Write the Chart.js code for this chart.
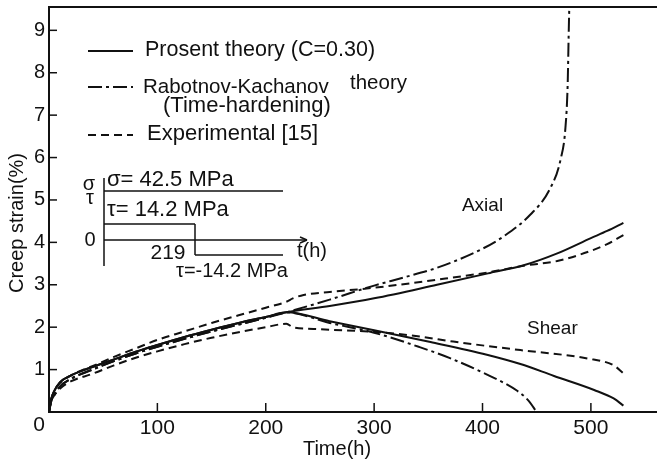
<!DOCTYPE html>
<html><head><meta charset="utf-8">
<script src="https://cdn.jsdelivr.net/npm/chart.js@4.4.0/dist/chart.umd.min.js"></script>
<style>html,body{margin:0;padding:0;background:#fff;}#wrap{width:657px;height:459px;}</style>
</head><body><div id="wrap"><canvas id="c" width="657" height="459"></canvas></div>
<script>
const FONT = "'Liberation Sans', Arial, sans-serif";

// ---- tick values ----
const xTickValues = [0, 100, 200, 300, 400, 500];
const yTickValues = [1, 2, 3, 4, 5, 6, 7, 8, 9];
const xTitle = 'Time(h)';
const yTitle = 'Creep strain(%)';

// ---- Present theory (C=0.30) ----
const presentCommonTime   = [0, 2, 5, 10, 20, 30, 40, 60, 80, 100, 125, 150, 175, 200, 219];
const presentCommonStrain = [0, 0.3, 0.5, 0.7, 0.86, 0.97, 1.06, 1.24, 1.42, 1.58, 1.77, 1.94, 2.1, 2.24, 2.35];
const presentAxialTime    = [259, 300, 358, 407, 438, 469, 500, 515, 530];
const presentAxialStrain  = [2.5, 2.68, 3.0, 3.28, 3.46, 3.74, 4.1, 4.27, 4.46];
const presentShearTime    = [259, 300, 352, 404, 435, 466, 503, 521, 530];
const presentShearStrain  = [2.14, 1.93, 1.65, 1.35, 1.13, 0.85, 0.52, 0.32, 0.15];

// ---- Rabotnov-Kachanov theory (time-hardening) ----
const rkCommonTime   = [0, 2, 5, 10, 20, 40, 60, 80, 100, 150, 200, 219];
const rkCommonStrain = [0, 0.25, 0.4, 0.6, 0.78, 1.0, 1.2, 1.38, 1.54, 1.9, 2.22, 2.35];
const rkAxialTime    = [259, 300, 327, 358, 400, 420, 444, 462, 472, 476.5, 478.6, 479.5, 480.3];
const rkAxialStrain  = [2.65, 2.98, 3.17, 3.4, 3.85, 4.15, 4.65, 5.25, 5.95, 6.7, 7.75, 8.9, 9.8];
const rkShearTime    = [259, 300, 342, 370, 401, 432, 442, 450];
const rkShearStrain  = [2.1, 1.87, 1.53, 1.27, 0.92, 0.5, 0.28, 0.0];

// ---- Experimental [15] ----
const expAxialTime   = [0, 2, 5, 10, 20, 40, 60, 80, 100, 125, 150, 175, 200, 219, 225, 235, 259, 300, 358, 407, 438, 469, 500, 515, 530];
const expAxialStrain = [0, 0.3, 0.5, 0.68, 0.86, 1.08, 1.3, 1.5, 1.7, 1.9, 2.1, 2.28, 2.46, 2.6, 2.68, 2.76, 2.83, 2.93, 3.12, 3.3, 3.45, 3.56, 3.8, 3.96, 4.17];
const expShearTime   = [0, 2, 5, 10, 20, 40, 60, 80, 100, 125, 150, 175, 200, 219, 225, 244, 259, 306, 342, 373, 435, 497, 521, 530];
const expShearStrain = [0, 0.25, 0.4, 0.55, 0.72, 0.9, 1.1, 1.28, 1.43, 1.6, 1.75, 1.88, 2.0, 2.08, 2.0, 1.96, 1.94, 1.88, 1.78, 1.66, 1.46, 1.26, 1.1, 0.91];

function pts(t, s) { return t.map((v, i) => ({ x: v, y: s[i] })); }

const SOLID = [];
const DASH = [8, 5];
const DASHDOT = [14, 4, 3, 4];
const INK = '#111';

function ds(label, data, dash) {
  return { label, data, borderColor: INK, borderWidth: 2, borderDash: dash, pointRadius: 0,
           fill: false, cubicInterpolationMode: 'monotone' };
}

const datasets = [
  ds('Present axial', pts(presentCommonTime.concat(presentAxialTime), presentCommonStrain.concat(presentAxialStrain)), SOLID),
  ds('Present shear', pts(presentCommonTime.concat(presentShearTime), presentCommonStrain.concat(presentShearStrain)), SOLID),
  ds('RK axial', pts(rkCommonTime.concat(rkAxialTime), rkCommonStrain.concat(rkAxialStrain)), DASHDOT),
  ds('RK shear', pts(rkCommonTime.concat(rkShearTime), rkCommonStrain.concat(rkShearStrain)), DASHDOT),
  ds('Exp axial', pts(expAxialTime, expAxialStrain), DASH),
  ds('Exp shear', pts(expShearTime, expShearStrain), DASH)
];

const decor = {
  id: 'decor',
  afterDatasetsDraw(chart) {
    const ctx = chart.ctx, ca = chart.chartArea;
    const xs = chart.scales.x, ys = chart.scales.y;
    const L = ca.left, T = ca.top;
    const X = px => L + (px - 49), Y = py => T + (py - 7);
    ctx.save();
    ctx.strokeStyle = INK; ctx.fillStyle = INK;
    // top border
    ctx.lineWidth = 2; ctx.setLineDash([]);
    ctx.beginPath(); ctx.moveTo(ca.left, ca.top); ctx.lineTo(ca.right, ca.top); ctx.stroke();
    // inward ticks
    ctx.lineWidth = 1.5;
    xTickValues.forEach(v => { if (v === 0) return; const p = xs.getPixelForValue(v);
      ctx.beginPath(); ctx.moveTo(p, ca.bottom); ctx.lineTo(p, ca.bottom - 9); ctx.stroke(); });
    yTickValues.forEach(v => { const p = ys.getPixelForValue(v);
      ctx.beginPath(); ctx.moveTo(ca.left, p); ctx.lineTo(ca.left + 8, p); ctx.stroke(); });

    // origin label and axis titles
    ctx.textBaseline = 'middle'; ctx.textAlign = 'center';
    ctx.font = '21px ' + FONT;
    ctx.fillText(String(xTickValues[0]), X(39), Y(425));
    ctx.font = '20px ' + FONT;
    ctx.fillText(xTitle, X(337), Y(449));
    ctx.save();
    ctx.translate(X(17), Y(223)); ctx.rotate(-Math.PI / 2);
    ctx.fillText(yTitle, 0, 0);
    ctx.restore();

    // legend
    ctx.lineWidth = 2;
    const sample = (y, dash) => { ctx.setLineDash(dash); ctx.beginPath(); ctx.moveTo(X(88), Y(y)); ctx.lineTo(X(133), Y(y)); ctx.stroke(); };
    sample(51, SOLID); sample(87, DASHDOT); sample(135, DASH);
    ctx.setLineDash([]);
    ctx.textAlign = 'left';
    ctx.font = '21.5px ' + FONT;
    ctx.fillText('Prosent theory (C=0.30)', X(145), Y(50));
    ctx.font = '20.5px ' + FONT;
    ctx.fillText('Rabotnov-Kachanov', X(143), Y(87));
    ctx.fillText('theory', X(350), Y(83));
    ctx.font = '22px ' + FONT;
    ctx.fillText('(Time-hardening)', X(163), Y(106));
    ctx.fillText('Experimental [15]', X(147), Y(134));

    // annotations
    ctx.font = '19px ' + FONT; ctx.textAlign = 'center';
    ctx.fillText('Axial', xs.getPixelForValue(400), ys.getPixelForValue(4.87));
    ctx.fillText('Shear', xs.getPixelForValue(464.5), ys.getPixelForValue(1.97));

    // stress history inset
    ctx.lineWidth = 1.5;
    const line = (x1, y1, x2, y2) => { ctx.beginPath(); ctx.moveTo(X(x1), Y(y1)); ctx.lineTo(X(x2), Y(y2)); ctx.stroke(); };
    line(104, 178, 104, 266);
    line(104, 191, 283, 191);
    line(104, 224, 195, 224);
    line(195, 224, 195, 255);
    line(195, 255, 283, 255);
    line(104, 240, 307, 240);
    line(300, 237, 307, 240); line(300, 243, 307, 240);
    ctx.font = '20px ' + FONT; ctx.textAlign = 'center';
    ctx.fillText('σ', X(89), Y(184));
    ctx.fillText('τ', X(90), Y(198));
    ctx.fillText('0', X(90), Y(240));
    ctx.textAlign = 'left';
    ctx.font = '22px ' + FONT;
    ctx.fillText('σ= 42.5 MPa', X(107), Y(180));
    ctx.fillText('τ= 14.2 MPa', X(107), Y(210));
    ctx.font = '20px ' + FONT;
    ctx.fillText('t(h)', X(297), Y(251));
    ctx.fillText('τ=-14.2 MPa', X(176), Y(271));
    ctx.font = '21px ' + FONT; ctx.textAlign = 'center';
    ctx.fillText('219', X(168), Y(253));
    ctx.restore();
  }
};

new Chart(document.getElementById('c'), {
  type: 'line',
  data: { datasets },
  options: {
    responsive: false, animation: false, devicePixelRatio: 1,
    layout: { padding: { top: 7, right: 0, left: 0, bottom: 0 } },
    plugins: { legend: { display: false }, tooltip: { enabled: false } },
    scales: {
      x: {
        type: 'linear', min: 0, max: 561,
        afterBuildTicks: s => { s.ticks = xTickValues.map(v => ({ value: v })); },
        afterFit: s => { s.height = 47; s.paddingLeft = 0; s.paddingRight = 0; },
        grid: { drawOnChartArea: false, drawTicks: false },
        border: { display: true, color: INK, width: 2 },
        ticks: { color: INK, font: { family: FONT, size: 21 }, padding: 4, maxRotation: 0, autoSkip: false,
                 callback: v => (v === 0 ? '' : String(v)) }
      },
      y: {
        type: 'linear', min: 0, max: 9.55,
        afterBuildTicks: s => { s.ticks = yTickValues.map(v => ({ value: v })); },
        afterFit: s => { s.width = 49; s.paddingTop = 0; s.paddingBottom = 0; },
        grid: { drawOnChartArea: false, drawTicks: false },
        border: { display: true, color: INK, width: 2 },
        ticks: { color: INK, font: { family: FONT, size: 20 }, padding: 4, autoSkip: false }
      }
    }
  },
  plugins: [decor]
});
</script>
</body></html>
